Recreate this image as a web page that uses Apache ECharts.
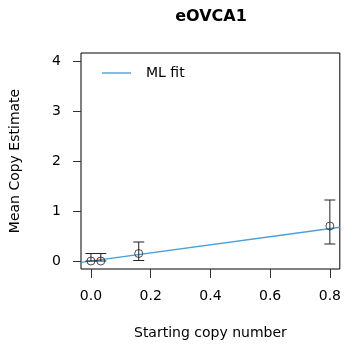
<!DOCTYPE html>
<html>
<head>
<meta charset="utf-8">
<script src="https://cdn.jsdelivr.net/npm/echarts@6/dist/echarts.min.js"></script>
<style>
  html, body { margin: 0; padding: 0; background: #fff; }
  #chart { width: 344px; height: 347px; }
</style>
</head>
<body>
<div id="chart"></div>
<script>
// Values
const startCopy = [0, 0.033, 0.16, 0.8];
const meanEstimate = [0, 0, 0.15, 0.70];
const lowerBar = [0, 0, 0.01, 0.34];
const upperBar = [0.15, 0.15, 0.38, 1.22];
const fitX = [-0.0333, 0.8333];
const fitY = [-0.027, 0.675];
const xTicks = [0, 0.2, 0.4, 0.6, 0.8];
const yTicks = [0, 1, 2, 3, 4];

const font = 'DejaVu Sans';
const chart = echarts.init(document.getElementById('chart'));

const points = startCopy.map((x, i) => [x, meanEstimate[i]]);
const bars = startCopy.map((x, i) => [x, lowerBar[i], upperBar[i]]);
const fitLine = fitX.map((x, i) => [x, fitY[i]]);

const option = {
    animation: false,
    backgroundColor: '#fff',
    graphic: [
        {
            type: 'text',
            x: 211,
            y: 17,
            style: {
                text: 'eOVCA1',
                font: 'bold 16px "DejaVu Sans"',
                fill: '#000',
                align: 'center',
                verticalAlign: 'middle'
            }
        }
    ],
    legend: {
        left: 97,
        top: 61,
        icon: 'rect',
        itemWidth: 29,
        itemHeight: 1.4,
        data: ['ML fit'],
        textStyle: {
            fontFamily: font,
            fontSize: 14,
            color: '#000',
            padding: [0, 0, 0, 10]
        }
    },
    grid: {
        left: 81,
        right: 3,
        top: 53,
        bottom: 78,
        show: true,
        borderColor: '#000',
        borderWidth: 1
    },
    xAxis: {
        type: 'value',
        min: -0.0333,
        max: 0.8333,
        name: 'Starting copy number',
        nameLocation: 'middle',
        nameGap: 57,
        nameTextStyle: { fontFamily: font, fontSize: 14, color: '#000' },
        axisLine: { show: false, onZero: false },
        splitLine: { show: false },
        axisTick: {
            show: true,
            length: 9,
            customValues: xTicks,
            lineStyle: { color: '#333' }
        },
        axisLabel: {
            customValues: xTicks,
            margin: 20,
            fontFamily: font,
            fontSize: 14,
            color: '#000',
            formatter: v => v.toFixed(1)
        }
    },
    yAxis: {
        type: 'value',
        min: -0.16,
        max: 4.16,
        name: 'Mean Copy Estimate',
        nameLocation: 'middle',
        nameGap: 59,
        nameTextStyle: { fontFamily: font, fontSize: 14, color: '#000' },
        axisLine: { show: false, onZero: false },
        splitLine: { show: false },
        axisTick: {
            show: true,
            length: 8,
            customValues: yTicks,
            lineStyle: { color: '#333' }
        },
        axisLabel: {
            customValues: yTicks,
            margin: 20,
            fontFamily: font,
            fontSize: 14,
            color: '#000',
            formatter: v => String(v)
        }
    },
    series: [
        {
            name: 'ML fit',
            type: 'line',
            data: fitLine,
            symbol: 'none',
            clip: true,
            lineStyle: { color: '#4a9fd8', width: 1.3 },
            itemStyle: { color: '#4a9fd8' },
            z: 3
        },
        {
            name: 'bars',
            type: 'custom',
            data: bars,
            z: 4,
            renderItem: (params, api) => {
                const top = api.coord([api.value(0), api.value(2)]);
                const bot = api.coord([api.value(0), api.value(1)]);
                const w = 5.5;
                const style = { stroke: '#222', lineWidth: 1 };
                return {
                    type: 'group',
                    children: [
                        { type: 'line', shape: { x1: top[0], y1: top[1], x2: bot[0], y2: bot[1] }, style },
                        { type: 'line', shape: { x1: top[0] - w, y1: top[1], x2: top[0] + w, y2: top[1] }, style },
                        { type: 'line', shape: { x1: bot[0] - w, y1: bot[1], x2: bot[0] + w, y2: bot[1] }, style }
                    ]
                };
            }
        },
        {
            name: 'points',
            type: 'scatter',
            data: points,
            symbol: 'circle',
            symbolSize: 8,
            z: 5,
            itemStyle: { color: 'transparent', borderColor: '#222', borderWidth: 1 }
        }
    ]
};

chart.setOption(option);
</script>
</body>
</html>
